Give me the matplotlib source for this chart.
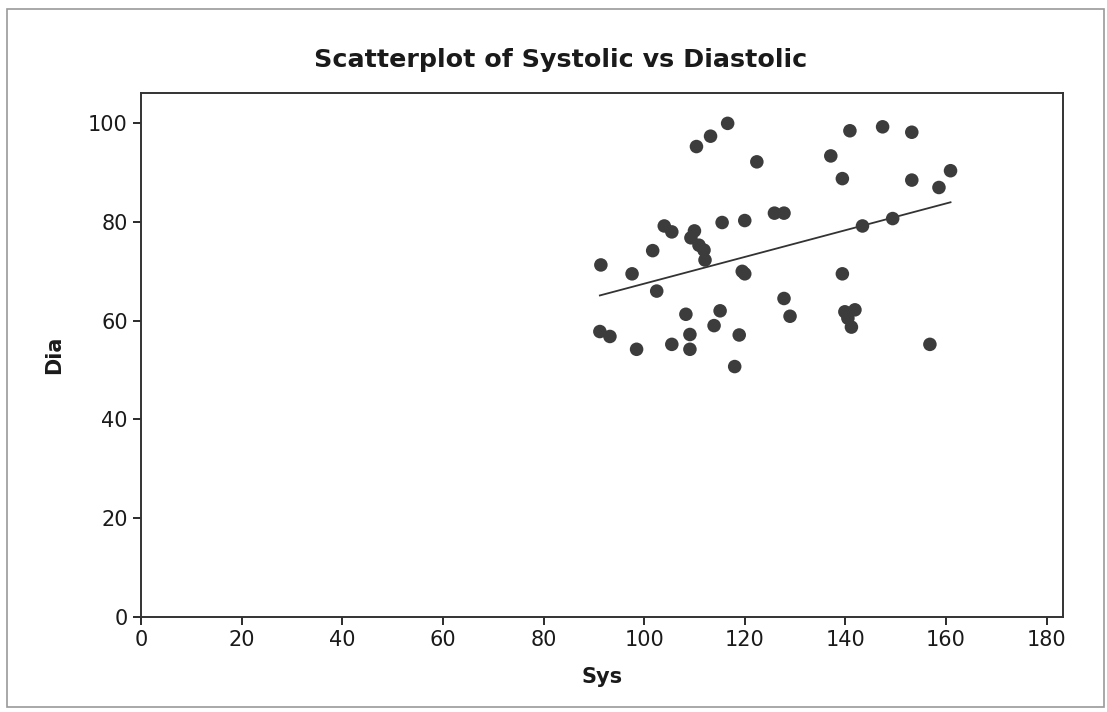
import numpy as np
import matplotlib
matplotlib.use('Agg')
import matplotlib.pyplot as plt
from matplotlib.patches import Rectangle

# values
sys_vals = [116.6, 113.2, 110.4, 122.4, 125.9, 127.8, 120.0, 115.5, 104.0, 105.5,
            110.0, 109.3, 110.9, 111.9, 112.1, 101.7, 91.4, 97.6, 119.5, 120.0,
            102.5, 127.8, 129.0, 115.1, 108.3, 113.9, 91.2, 93.2, 109.1, 118.9,
            105.5, 98.5, 109.1, 118.0, 140.9, 147.4, 153.2, 137.1, 139.4, 153.2,
            160.9, 158.6, 149.4, 143.4, 139.4, 139.9, 141.9, 140.5, 141.2, 156.8]
dia_vals = [100.0, 97.4, 95.3, 92.2, 81.8, 81.8, 80.3, 79.9, 79.2, 78.0,
            78.2, 76.8, 75.3, 74.3, 72.3, 74.2, 71.3, 69.5, 70.0, 69.5,
            66.0, 64.5, 60.9, 62.0, 61.3, 59.0, 57.8, 56.8, 57.2, 57.1,
            55.2, 54.2, 54.2, 50.7, 98.5, 99.3, 98.2, 93.4, 88.8, 88.5,
            90.4, 87.0, 80.7, 79.2, 69.5, 61.8, 62.2, 60.5, 58.7, 55.2]
fit_coef = [0.271, 40.4]   # slope, intercept of drawn fit line
x_ticks = [0, 20, 40, 60, 80, 100, 120, 140, 160, 180]
y_ticks = [0, 20, 40, 60, 80, 100]

fig = plt.figure(figsize=(11.07, 7.12), dpi=100)
ax = fig.add_axes([0.1274, 0.1339, 0.8326, 0.7351])

fig.patches.append(Rectangle((0.006, 0.007), 0.991, 0.981, transform=fig.transFigure,
                             fill=False, edgecolor='#9a9a9a', linewidth=1.2))

ax.scatter(sys_vals, dia_vals, s=95, color='#3c3c3c', edgecolors='none', zorder=3)

xs = np.array([min(sys_vals), max(sys_vals)])
ax.plot(xs, fit_coef[0] * xs + fit_coef[1], color='#333333', linewidth=1.3, zorder=2)

ax.set_xlim(0, 183.2)
ax.set_ylim(0, 106.1)
ax.set_xticks(x_ticks)
ax.set_yticks(y_ticks)
ax.tick_params(direction='out', length=6, width=1.3, labelsize=15, colors='#1a1a1a')
for sp in ax.spines.values():
    sp.set_linewidth(1.4)
    sp.set_color('#333333')

# title is centred on the figure, not on the axes
fig.text(0.506, 0.916, 'Scatterplot of Systolic vs Diastolic', fontsize=18.3,
         fontweight='bold', ha='center', va='center', color='#1a1a1a')
ax.set_xlabel('Sys', fontsize=15, fontweight='bold', labelpad=12, color='#1a1a1a')
ax.set_ylabel('Dia', fontsize=15, fontweight='bold', labelpad=17, color='#1a1a1a')

plt.savefig('out.png', dpi=100)
